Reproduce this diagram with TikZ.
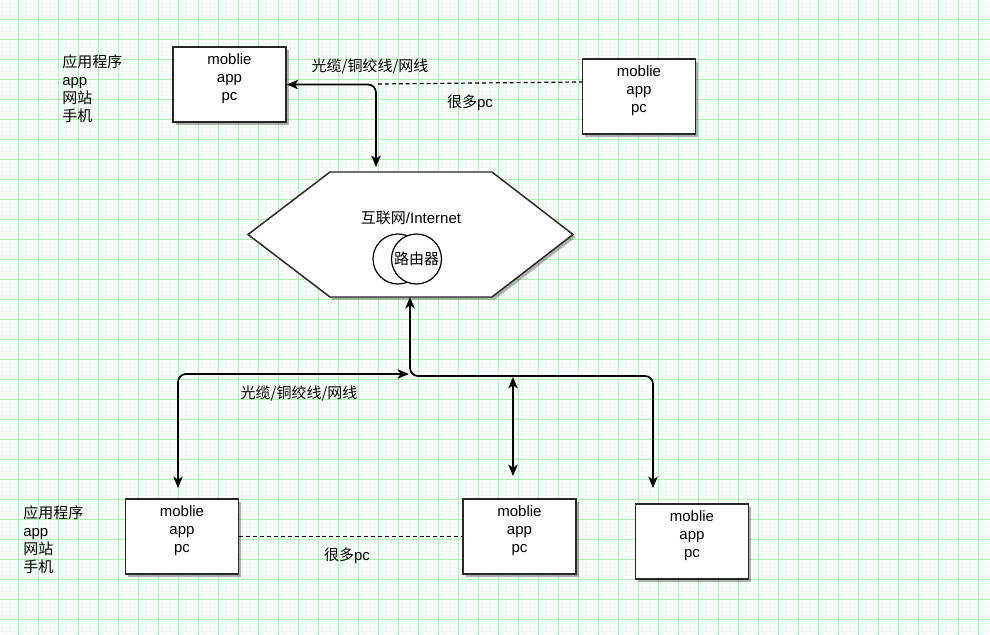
\documentclass[tikz,border=0pt]{standalone}
\usepackage{fontspec}
\setmainfont{Liberation Sans}
\newfontfamily\cjk{Noto Sans CJK SC}
\usetikzlibrary{arrows.meta,shadows,calc}
\definecolor{gridmajor}{RGB}{170,242,170}
\definecolor{gridminor}{RGB}{236,252,236}
\definecolor{edgegray}{RGB}{40,40,40}
\newcommand\fsz{\fontsize{11.25pt}{13.5pt}\selectfont}
\begin{document}
\begin{tikzpicture}[x=0.75pt,y=-0.75pt,
  >={Stealth[length=8.5pt,width=7pt,inset=2.2pt]},
  shadowed/.style={drop shadow={shadow xshift=2pt,shadow yshift=-2pt,opacity=0.3,fill=black}},
  box/.style={draw=edgegray,line width=1.1pt,fill=white,minimum width=84.75pt,minimum height=56.25pt,inner sep=0pt,shadowed},
  boxtext/.style={align=center,font=\fsz,inner sep=0pt},
  lbl/.style={font=\fsz,inner sep=0pt},
  sidetext/.style={align=left,font=\fsz,inner sep=0pt,anchor=west},
  conn/.style={line width=1.3pt,rounded corners=6pt,<->},
  dashline/.style={line width=0.9pt,dash pattern=on 3pt off 2.2pt},
  router/.style={circle,draw=black,line width=0.9pt,fill=white,minimum size=37.5pt,inner sep=0pt,font=\fsz}
]
\useasboundingbox (0,0) rectangle (990,635);
\fill[white] (0,0) rectangle (990,635);
% grid
\foreach \i in {0,...,247} \draw[gridminor,line width=0.35pt] ({2+4*\i},0) -- ({2+4*\i},635);
\foreach \i in {0,...,158} \draw[gridminor,line width=0.35pt] (0,{3+4*\i}) -- (990,{3+4*\i});
\foreach \i in {0,...,48} \draw[gridmajor,line width=0.7pt] ({18+20*\i},0) -- ({18+20*\i},635);
\foreach \i in {0,...,30} \draw[gridmajor,line width=0.7pt] (0,{19+20*\i}) -- (990,{19+20*\i});

% side texts
\node[sidetext] (side1) at (62,89) {{\cjk 应用程序}\\app\\{\cjk 网站}\\{\cjk 手机}};
\node[sidetext] (side2) at (23,540) {{\cjk 应用程序}\\app\\{\cjk 网站}\\{\cjk 手机}};

% boxes
\node[box] (tl) at (229.5,84.5) {};
\node[boxtext] (tlt) at ($(tl)+(0,-6)$) {moblie\\app\\pc};
\node[box] (tr) at (639,96.5) {};
\node[boxtext] (trt) at ($(tr)+(0,-6)$) {moblie\\app\\pc};
\node[box] (bl) at (182,536.5) {};
\node[boxtext] (blt) at ($(bl)+(0,-6)$) {moblie\\app\\pc};
\node[box] (bm) at (519.5,536.5) {};
\node[boxtext] (bmt) at ($(bm)+(0,-6)$) {moblie\\app\\pc};
\node[box] (br) at (692,541.5) {};
\node[boxtext] (brt) at ($(br)+(0,-6)$) {moblie\\app\\pc};

% hexagon
\coordinate (h1) at (248,234.5);
\coordinate (h2) at (330,172);
\coordinate (h3) at (492,172);
\coordinate (h4) at (573,234.5);
\coordinate (h5) at (492,297);
\coordinate (h6) at (330,297);
\filldraw[fill=white,draw=edgegray,line width=1.1pt,shadowed] (h1) -- (h2) -- (h3) -- (h4) -- (h5) -- (h6) -- cycle;
\node[lbl] (inet) at (411,218) {{\cjk 互联网}/Internet};
\node[router] (r1) at (398,259) {};
\node[router] (r2) at (416.5,259) {\cjk 路由器};

% connector points
\coordinate (hexN) at (376,167);
\coordinate (hexS) at (410,297);
\coordinate (d1) at (378,84);
\coordinate (busR) at (653,376);
\coordinate (brin) at (653,488);
\coordinate (busL) at (409,374);
\coordinate (blin) at (178,488);
\coordinate (v1) at (513,377);
\coordinate (v2) at (513,476);

% connectors
\draw[conn] (tl.east) -| (hexN);
\draw[dashline] (d1) -- ([yshift=10.9pt]tr.west);
\draw[conn] (hexS) |- (busR) -- (brin);
\draw[conn] (busL) -| (blin);
\draw[conn] (v1) -- (v2);
\draw[dashline] (bl.east) -- (bm.west);

% labels
\node[lbl] (cab1) at (370,67) {\cjk 光缆/铜绞线/网线};
\node[lbl] (many1) at (470,103) {{\cjk 很多}pc};
\node[lbl] (cab2) at (299,394) {\cjk 光缆/铜绞线/网线};
\node[lbl] (many2) at (347,556) {{\cjk 很多}pc};
\end{tikzpicture}
\end{document}
